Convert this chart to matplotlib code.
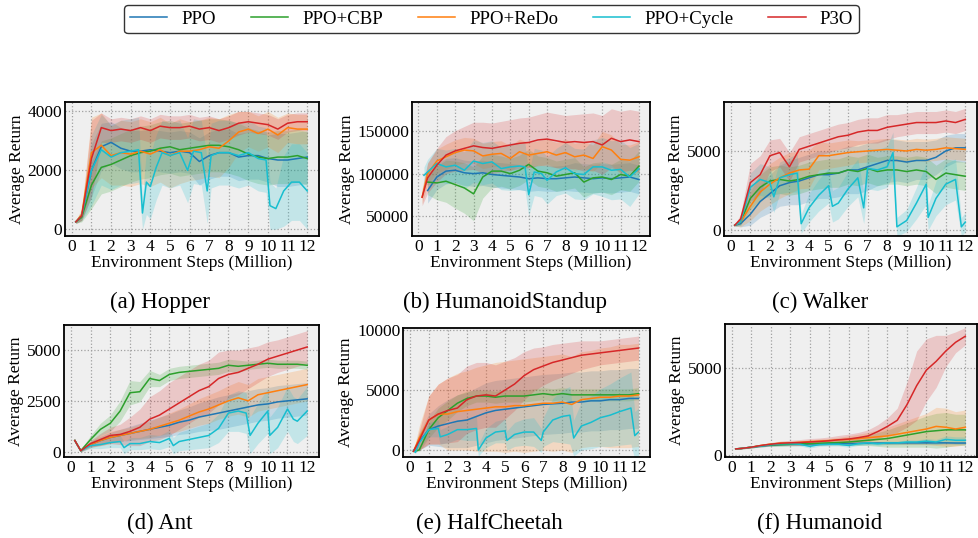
import numpy as np
from matplotlib import pyplot as plt

plt.rcParams['font.family'] = ['Liberation Serif', 'DejaVu Serif']

W, H = 979, 538

LABELS = ["PPO", "PPO+CBP", "PPO+ReDo", "PPO+Cycle", "P3O"]
COLORS = ["#1f77b4", "#2ca02c", "#ff7f0e", "#17becf", "#d62728"]
nan = np.nan

# common x grid (million steps)
X = [0.2, 0.5, 1, 1.5, 2, 2.5, 3, 3.5, 4, 4.5, 5, 5.5, 6, 6.5, 7, 7.5, 8, 8.5, 9, 9.5, 10, 10.5, 11, 11.5, 12]

# (a) Hopper
hop_ppo = [250, 450, 2000, 2800, 2950, 2750, 2650, 2650, 2700, 2650, 2600, 2650, 2600, 2300, 2500, 2600, 2600, 2450, 2500, 2500, 2400, 2350, 2350, 2400, 2450]
hop_ppo_sd = [50, 150, 900, 800, 700, 700, 700, 700, 700, 700, 700, 700, 700, 800, 800, 800, 800, 800, 800, 800, 800, 900, 900, 900, 900]
hop_cbp = [250, 400, 1500, 2100, 2200, 2350, 2500, 2600, 2650, 2750, 2800, 2700, 2750, 2800, 2850, 2850, 2800, 2700, 2550, 2450, 2400, 2450, 2450, 2500, 2400]
hop_cbp_sd = [50, 150, 800, 900, 900, 900, 900, 900, 900, 900, 900, 900, 900, 900, 900, 900, 900, 900, 900, 900, 900, 900, 900, 900, 900]
hop_redo = [250, 500, 2600, 2850, 2500, 2600, 2550, 2650, 2550, 2700, 2500, 2650, 2650, 2700, 2800, 2750, 3000, 3300, 3400, 3250, 3400, 3200, 3450, 3400, 3400]
hop_redo_sd = [50, 200, 1200, 1100, 1000, 1100, 1100, 1100, 1100, 1100, 1100, 1100, 1000, 1000, 1000, 1000, 900, 700, 600, 600, 600, 600, 500, 500, 500]
hop_p3o = [250, 450, 2400, 3450, 3350, 3400, 3350, 3450, 3350, 3500, 3450, 3450, 3500, 3400, 3450, 3350, 3450, 3600, 3650, 3600, 3550, 3400, 3600, 3650, 3650]
hop_p3o_sd = [50, 150, 1300, 500, 400, 400, 400, 400, 400, 400, 400, 400, 400, 400, 400, 400, 400, 400, 350, 350, 350, 350, 300, 300, 300]
hop_cyc_x = [0.2, 0.5, 1.0, 1.5, 2, 2.5, 3, 3.4, 3.6, 3.8, 4.0, 4.3, 4.6, 5, 5.5, 5.9, 6.2, 6.6, 6.9, 7.1, 7.5, 8, 8.5, 9, 9.5, 9.9, 10.1, 10.4, 10.8, 11.2, 11.6, 12]
hop_cyc = [250, 450, 2000, 2700, 2450, 2600, 2650, 2700, 550, 1600, 1450, 2100, 2600, 2500, 2600, 2000, 2650, 2600, 1300, 2500, 2600, 2600, 2500, 2600, 2400, 2350, 800, 700, 1300, 1600, 1600, 1300]
hop_cyc_sd = [50, 150, 1200, 1200, 1100, 1100, 1100, 1100, 550, 1100, 1100, 1100, 1100, 1100, 1100, 1100, 1100, 1100, 1100, 1100, 1100, 1100, 1100, 1100, 1100, 1100, 800, 700, 1200, 1300, 1300, 1300]

# (b) HumanoidStandup
hs_ppo = [nan, 80000, 96000, 103000, 104000, 101000, 100000, 101000, 99000, 98000, 97000, 96000, 94000, 95000, 94000, 94000, 95000, 96000, 95000, 94000, 95000, 94000, 95000, 96000, 93000]
hs_ppo_sd = [nan, 15000, 15000, 15000, 15000, 15000, 15000, 15000, 15000, 15000, 15000, 15000, 15000, 15000, 15000, 15000, 15000, 17000, 17000, 17000, 17000, 17000, 17000, 17000, 17000]
hs_cbp = [nan, 90000, 89000, 91000, 87000, 83000, 76000, 96000, 103000, 103000, 100000, 104000, 111000, 103000, 101000, 97000, 99000, 101000, 90000, 95000, 96000, 93000, 99000, 97000, 109000]
hs_cbp_sd = [nan, 15000, 20000, 25000, 28000, 30000, 32000, 25000, 20000, 18000, 18000, 18000, 18000, 18000, 18000, 18000, 18000, 18000, 18000, 18000, 18000, 18000, 18000, 18000, 18000]
hs_redo = [72000, 100000, 115000, 120000, 125000, 128000, 127000, 121000, 123000, 124000, 118000, 126000, 122000, 124000, 126000, 122000, 125000, 120000, 122000, 118000, 132000, 128000, 117000, 116000, 120000]
hs_redo_sd = [8000, 12000, 14000, 15000, 15000, 15000, 15000, 15000, 15000, 15000, 15000, 15000, 15000, 15000, 15000, 15000, 16000, 16000, 16000, 16000, 18000, 18000, 18000, 18000, 18000]
hs_p3o = [72000, 95000, 110000, 122000, 127000, 130000, 133000, 131000, 130000, 132000, 134000, 136000, 137000, 140000, 141000, 139000, 137000, 138000, 137000, 138000, 134000, 142000, 138000, 140000, 138000]
hs_p3o_sd = [10000, 18000, 20000, 22000, 24000, 26000, 28000, 30000, 30000, 30000, 30000, 30000, 30000, 30000, 32000, 32000, 32000, 32000, 34000, 34000, 35000, 35000, 36000, 36000, 36000]
hs_cyc_x = [0.3, 0.5, 1, 1.5, 2, 2.5, 3, 3.5, 4, 4.5, 5, 5.5, 5.8, 6.0, 6.3, 6.7, 7, 7.5, 8, 8.5, 9, 9.5, 10, 10.5, 11, 11.5, 12]
hs_cyc = [98000, 102000, 112000, 108000, 110000, 104000, 115000, 112000, 114000, 106000, 108000, 109000, 108000, 75000, 102000, 100000, 92000, 102000, 107000, 100000, 99000, 108000, 108000, 104000, 105000, 96000, 106000]
hs_cyc_sd = [10000, 15000, 18000, 20000, 20000, 22000, 25000, 25000, 25000, 25000, 28000, 28000, 28000, 25000, 28000, 28000, 28000, 28000, 30000, 30000, 30000, 32000, 35000, 35000, 35000, 35000, 30000]

# (c) Walker
wk_ppo = [300, 400, 1000, 1800, 2300, 2800, 3000, 3100, 3300, 3500, 3500, 3600, 3800, 3800, 4000, 4200, 4400, 4400, 4300, 4400, 4400, 4600, 5000, 5200, 5200]
wk_ppo_sd = [50, 200, 700, 1000, 1200, 1300, 1400, 1500, 1500, 1500, 1500, 1500, 1500, 1500, 1500, 1400, 1400, 1300, 1300, 1200, 1200, 1100, 1000, 900, 900]
wk_cbp = [300, 500, 2000, 2700, 3100, 3200, 3100, 3200, 3400, 3500, 3600, 3600, 3800, 3700, 3900, 3700, 3800, 3800, 3700, 3800, 3700, 3200, 3600, 3500, 3400]
wk_cbp_sd = [50, 200, 700, 800, 900, 900, 900, 900, 900, 900, 900, 900, 900, 900, 900, 900, 900, 900, 900, 900, 900, 900, 900, 900, 900]
wk_redo = [300, 500, 1500, 2400, 2900, 3300, 3600, 3800, 3850, 4700, 4700, 4800, 4900, 4950, 5000, 5050, 5100, 5050, 5000, 5100, 5050, 5100, 5200, 5150, 5100]
wk_redo_sd = [50, 300, 900, 1200, 1300, 1300, 1300, 1200, 1200, 900, 800, 800, 800, 700, 700, 700, 700, 700, 700, 700, 700, 700, 700, 700, 700]
wk_p3o = [300, 700, 3000, 3500, 4700, 4900, 4000, 5100, 5300, 5500, 5700, 5900, 6000, 6200, 6300, 6300, 6500, 6600, 6700, 6800, 6800, 6800, 6900, 6800, 7000]
wk_p3o_sd = [50, 300, 1200, 1200, 1000, 900, 900, 800, 800, 800, 800, 800, 800, 800, 800, 800, 800, 700, 700, 700, 700, 700, 700, 700, 700]
wk_cyc_x = [0.2, 0.5, 1, 1.5, 2, 2.2, 2.5, 3, 3.4, 3.6, 4, 4.5, 5, 5.2, 5.5, 6, 6.5, 6.8, 7, 7.5, 8, 8.3, 8.5, 9, 9.5, 10, 10.1, 10.5, 11, 11.5, 11.8, 12]
wk_cyc = [300, 500, 2700, 3200, 3000, 2100, 3300, 3500, 3600, 400, 1400, 2200, 2800, 1500, 1700, 2600, 3300, 1400, 3900, 3800, 4000, 4900, 200, 600, 1700, 2900, 800, 2000, 2900, 3200, 200, 500]
wk_cyc_sd = [50, 200, 900, 1000, 1000, 1000, 1000, 1100, 1200, 600, 900, 1000, 1100, 1000, 1000, 1100, 1200, 1000, 1300, 1300, 1300, 1300, 600, 700, 1000, 1300, 800, 1100, 1300, 1300, 600, 600]

# (d) Ant
ant_ppo = [550, 50, 350, 550, 700, 800, 900, 1000, 1100, 1200, 1300, 1450, 1550, 1700, 1800, 1900, 2000, 2100, 2200, 2300, 2350, 2450, 2500, 2550, 2600]
ant_ppo_sd = [50, 50, 150, 200, 250, 300, 350, 400, 450, 500, 550, 600, 650, 700, 750, 800, 800, 800, 800, 800, 800, 800, 800, 800, 800]
ant_cbp = [550, 50, 600, 1100, 1400, 2000, 2900, 2950, 3600, 3500, 3800, 3900, 3950, 4000, 4050, 4100, 4250, 4200, 4250, 4300, 4350, 4300, 4300, 4300, 4250]
ant_cbp_sd = [50, 50, 200, 300, 400, 500, 600, 500, 400, 300, 300, 300, 300, 300, 300, 300, 300, 300, 200, 200, 200, 200, 200, 200, 200]
ant_redo = [550, 50, 350, 550, 700, 800, 900, 1000, 1100, 1250, 1400, 1550, 1750, 1950, 2100, 2300, 2500, 2650, 2500, 2800, 2900, 3000, 3100, 3200, 3300]
ant_redo_sd = [50, 50, 150, 250, 300, 300, 300, 350, 400, 450, 500, 550, 600, 650, 700, 700, 750, 800, 800, 800, 800, 800, 800, 800, 800]
ant_p3o = [550, 50, 400, 600, 800, 850, 1000, 1200, 1600, 1800, 2100, 2400, 2700, 3000, 3200, 3600, 3800, 3900, 4100, 4300, 4550, 4700, 4850, 5000, 5150]
ant_p3o_sd = [50, 50, 150, 300, 400, 500, 700, 900, 1100, 1200, 1300, 1300, 1300, 1300, 1300, 1300, 1200, 1100, 1000, 900, 850, 800, 800, 800, 800]
ant_cyc_x = [0.2, 0.5, 1, 1.5, 2, 2.5, 2.7, 3, 3.5, 4, 4.5, 5, 5.2, 5.5, 6, 6.5, 7, 7.5, 8, 8.5, 8.9, 9.1, 9.5, 10, 10.1, 10.5, 11, 11.3, 11.5, 12]
ant_cyc = [550, 50, 300, 350, 450, 500, 200, 400, 400, 500, 450, 650, 300, 500, 600, 700, 800, 1150, 1900, 2000, 1900, 800, 1400, 2000, 800, 1200, 2100, 1600, 1500, 2000]
ant_cyc_sd = [50, 50, 150, 200, 250, 300, 300, 300, 300, 350, 350, 400, 400, 450, 500, 550, 600, 700, 900, 1000, 1000, 900, 1000, 1100, 900, 1000, 1100, 1100, 1100, 1200]

# (e) HalfCheetah
hc_ppo = [-100, 700, 1700, 2000, 2200, 2400, 2500, 2800, 3100, 3300, 3400, 3500, 3600, 3700, 3800, 3850, 3900, 4000, 4000, 4100, 4100, 4200, 4200, 4300, 4300]
hc_ppo_sd = [50, 700, 1300, 1700, 2000, 2200, 2300, 2400, 2500, 2500, 2500, 2500, 2500, 2500, 2500, 2500, 2500, 2500, 2500, 2500, 2500, 2500, 2500, 2500, 2500]
hc_cbp = [-100, 0, 1700, 2700, 3300, 3900, 4300, 4500, 4500, 4400, 4500, 4500, 4500, 4600, 4700, 4600, 4700, 4600, 4600, 4600, 4600, 4600, 4600, 4600, 4700]
hc_cbp_sd = [50, 100, 700, 800, 800, 700, 600, 500, 500, 500, 500, 500, 500, 500, 500, 500, 500, 500, 500, 500, 500, 500, 500, 500, 500]
hc_redo = [-100, 1000, 2500, 3000, 3000, 3200, 3300, 3400, 3500, 3600, 3600, 3700, 3700, 3800, 3900, 3900, 4000, 3800, 4200, 4300, 4400, 4400, 4500, 4500, 4600]
hc_redo_sd = [50, 1000, 2000, 2500, 3000, 3200, 3300, 3500, 3600, 3700, 3800, 3800, 3900, 3900, 3900, 4000, 4000, 4000, 4000, 4000, 4100, 4200, 4300, 4300, 4300]
hc_p3o = [-100, 800, 2500, 3000, 3300, 3500, 4200, 4500, 4600, 4500, 5000, 5500, 6200, 6700, 7000, 7300, 7500, 7700, 7900, 8000, 8100, 8200, 8300, 8400, 8500]
hc_p3o_sd = [50, 800, 2000, 2500, 2700, 2800, 2800, 2800, 2700, 2600, 2400, 2200, 2000, 1800, 1600, 1500, 1400, 1300, 1200, 1100, 1000, 1000, 1000, 1000, 1000]
hc_cyc_x = [0.2, 0.3, 0.5, 1, 1.5, 1.6, 2, 2.5, 3, 3.5, 3.6, 4, 4.5, 5, 5.1, 5.5, 6, 6.5, 6.9, 7, 7.5, 8, 8.4, 8.6, 9, 9.5, 10, 10.5, 11, 11.6, 11.8, 12]
hc_cyc = [0, -200, 600, 1700, 1800, 1100, 1300, 1700, 1700, 1800, 0, 1000, 1500, 1600, 800, 1300, 1500, 1500, 800, 1500, 2500, 2800, 2900, 1000, 2000, 2300, 2700, 2900, 3200, 3500, 1200, 1500]
hc_cyc_sd = [50, 100, 400, 600, 700, 600, 700, 800, 900, 1000, 500, 800, 900, 1000, 800, 1000, 1100, 1200, 1000, 1200, 1800, 2200, 2400, 1500, 2000, 2200, 2400, 2600, 2800, 3000, 2000, 2000]

# (f) Humanoid
hu_ppo = [350, 380, 450, 520, 570, 600, 620, 630, 640, 650, 650, 660, 660, 670, 680, 690, 690, 700, 700, 700, 700, 700, 700, 690, 690]
hu_ppo_sd = [30, 30, 40, 50, 60, 70, 80, 80, 80, 80, 80, 80, 80, 80, 80, 80, 80, 80, 80, 80, 80, 80, 80, 80, 80]
hu_cbp = [350, 380, 450, 530, 580, 600, 620, 640, 660, 680, 700, 720, 750, 800, 850, 900, 950, 1050, 1150, 1250, 1350, 1400, 1450, 1450, 1450]
hu_cbp_sd = [30, 30, 40, 60, 80, 100, 100, 100, 100, 120, 120, 150, 200, 250, 300, 400, 500, 600, 700, 800, 900, 1000, 1000, 900, 900]
hu_redo = [350, 380, 450, 550, 630, 680, 700, 730, 770, 800, 830, 870, 900, 950, 1000, 1050, 1100, 1200, 1300, 1400, 1500, 1650, 1600, 1500, 1600]
hu_redo_sd = [30, 30, 40, 60, 80, 100, 100, 100, 100, 120, 120, 150, 200, 250, 300, 400, 500, 600, 700, 800, 900, 1100, 1100, 1000, 1000]
hu_p3o = [350, 380, 450, 550, 620, 680, 700, 720, 750, 780, 820, 880, 920, 1000, 1100, 1350, 1650, 2000, 2900, 4000, 4900, 5400, 6000, 6500, 6850]
hu_p3o_sd = [30, 30, 50, 80, 100, 120, 150, 170, 200, 200, 220, 250, 280, 300, 350, 400, 500, 700, 1300, 2000, 1800, 1500, 900, 600, 500]
hu_cyc = [350, 380, 450, 520, 600, 650, 650, 620, 500, 600, 620, 620, 550, 650, 700, 650, 700, 700, 750, 750, 800, 750, 900, 850, 850]
hu_cyc_sd = [30, 30, 40, 60, 80, 100, 100, 100, 100, 100, 100, 100, 100, 100, 100, 100, 100, 100, 120, 120, 150, 150, 200, 200, 200]

panels = [
    ("(a) Hopper", [65, 102, 319, 236], (-230, 4320), [0, 2000, 4000], 160,
     [(X, hop_ppo, hop_ppo_sd), (X, hop_cbp, hop_cbp_sd), (X, hop_redo, hop_redo_sd),
      (hop_cyc_x, hop_cyc, hop_cyc_sd), (X, hop_p3o, hop_p3o_sd)]),
    ("(b) HumanoidStandup", [412, 102, 650, 236], (26000, 185000), [50000, 100000, 150000], 505,
     [(X, hs_ppo, hs_ppo_sd), (X, hs_cbp, hs_cbp_sd), (X, hs_redo, hs_redo_sd),
      (hs_cyc_x, hs_cyc, hs_cyc_sd), (X, hs_p3o, hs_p3o_sd)]),
    ("(c) Walker", [724, 102, 977, 236], (-380, 8100), [0, 5000], 820,
     [(X, wk_ppo, wk_ppo_sd), (X, wk_cbp, wk_cbp_sd), (X, wk_redo, wk_redo_sd),
      (wk_cyc_x, wk_cyc, wk_cyc_sd), (X, wk_p3o, wk_p3o_sd)]),
    ("(d) Ant", [64, 325, 319, 457], (-260, 6230), [0, 2500, 5000], 160,
     [(X, ant_ppo, ant_ppo_sd), (X, ant_cbp, ant_cbp_sd), (X, ant_redo, ant_redo_sd),
      (ant_cyc_x, ant_cyc, ant_cyc_sd), (X, ant_p3o, ant_p3o_sd)]),
    ("(e) HalfCheetah", [403, 328, 650, 457], (-580, 10170), [0, 5000, 10000], 489,
     [(X, hc_ppo, hc_ppo_sd), (X, hc_cbp, hc_cbp_sd), (X, hc_redo, hc_redo_sd),
      (hc_cyc_x, hc_cyc, hc_cyc_sd), (X, hc_p3o, hc_p3o_sd)]),
    ("(f) Humanoid", [725, 324, 977, 457], (-115, 7555), [0, 5000], 820,
     [(X, hu_ppo, hu_ppo_sd), (X, hu_cbp, hu_cbp_sd), (X, hu_redo, hu_redo_sd),
      (X, hu_cyc, hu_cyc_sd), (X, hu_p3o, hu_p3o_sd)]),
]

fig = plt.figure(figsize=(W / 100, H / 100), dpi=100)

for title, (l, t, r, b), ylim, yticks, cap_x, series in panels:
    ax = fig.add_axes([l / W, 1 - b / H, (r - l) / W, (b - t) / H])
    ax.set_facecolor("#efefef")
    for (xs, m, sd), c, lab in zip(series, COLORS, LABELS):
        xs, m, sd = np.array(xs, float), np.array(m, float), np.array(sd, float)
        ax.fill_between(xs, m - sd, m + sd, color=c, alpha=0.2, lw=0)
        ax.plot(xs, m, color=c, lw=1.1, label=lab)
    ax.set_xlim(-0.35, 12.6)
    ax.set_ylim(*ylim)
    ax.set_xticks(range(13))
    ax.set_yticks(yticks)
    ax.tick_params(length=0, pad=2, labelsize=12.5)
    ax.grid(True, ls=":", color="#a0a0a0", lw=0.9)
    ax.set_axisbelow(True)
    for s in ax.spines.values():
        s.set_linewidth(1.3)
        s.set_color("black")
    ax.set_xlabel("Environment Steps (Million)", fontsize=12.5, labelpad=0)
    ax.set_ylabel("Average Return", fontsize=12.5, labelpad=2)
    fig.text(cap_x / W, 1 - (b + 66) / H, title, fontsize=16.5, ha="center", va="center")

handles, labels = ax.get_legend_handles_labels()
fig.legend(handles, labels, loc="upper center", bbox_to_anchor=(491.5 / W, 1 - 5 / H),
           ncol=5, fontsize=13.5, frameon=True, edgecolor="black", fancybox=True,
           handlelength=2.0, handletextpad=0.75, columnspacing=1.85, borderpad=0.3,
           borderaxespad=0)

fig.savefig("out.png", dpi=100)
